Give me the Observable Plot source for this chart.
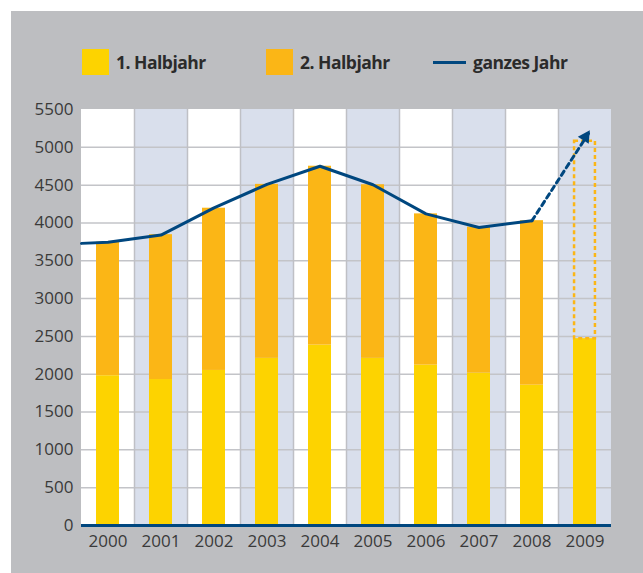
<!DOCTYPE html>
<html>
<head>
<meta charset="utf-8">
<script src="https://cdn.jsdelivr.net/npm/d3@7"></script>
<script src="https://cdn.jsdelivr.net/npm/@observablehq/plot@0.6"></script>
<style>
  html, body { margin: 0; padding: 0; background: #ffffff; }
  #panel { position: absolute; left: 11px; top: 11px; width: 632px; height: 562px; background: #BDBEC1; overflow: hidden; }
  .lg { position: absolute; font-family: "Open Sans", sans-serif; font-weight: 700; font-size: 17.5px; color: #2b2b2b; line-height: 26px; top: 38px; letter-spacing: -0.5px; white-space: nowrap; }
  .sw { position: absolute; top: 38px; width: 27px; height: 26px; }
  .ln { position: absolute; top: 50px; width: 33px; height: 2.5px; background: #00477F; }
  #chart { position: absolute; left: 0; top: 79px; }
</style>
</head>
<body>
<div id="panel">
  <div class="sw" style="left:71px;background:#FDD300"></div>
  <div class="lg" style="left:105px">1. Halbjahr</div>
  <div class="sw" style="left:255px;background:#FBB616"></div>
  <div class="lg" style="left:289px">2. Halbjahr</div>
  <div class="ln" style="left:422px"></div>
  <div class="lg" style="left:462px">ganzes Jahr</div>
  <div id="chart"></div>
</div>
<script>
// ---- data ----
const years = [2000, 2001, 2002, 2003, 2004, 2005, 2006, 2007, 2008, 2009];
const firstHalf = [1980, 1930, 2050, 2210, 2385, 2210, 2120, 2015, 1855, 2470];
const fullYear = [3745, 3845, 4195, 4510, 4750, 4505, 4120, 3945, 4030, null];
const projected2009 = 5080;
const lineYears = [1999.5, 2000, 2001, 2002, 2003, 2004, 2005, 2006, 2007, 2008];
const lineValues = [3730, 3745, 3840, 4200, 4510, 4750, 4505, 4120, 3940, 4030];
const forecastYears = [2008, 2009.1];
const forecastValues = [4030, 5220];
const yTicks = [0, 500, 1000, 1500, 2000, 2500, 3000, 3500, 4000, 4500, 5000, 5500];

// ---- derived tables ----
const half = 0.217;
const bands = years.map((y, i) => ({year: y, fill: i % 2 === 0 ? "#FFFFFF" : "#D9DFEC"}));
const h1 = years.map((y, i) => ({year: y, v: firstHalf[i]}));
const h2 = years.map((y, i) => ({year: y, lo: firstHalf[i], hi: fullYear[i]})).filter(d => d.hi != null);
const line = lineYears.map((y, i) => ({year: y, v: lineValues[i]}));
const fc = forecastYears.map((y, i) => ({year: y, v: forecastValues[i]}));
const proj = [{year: 2009, lo: firstHalf[9], hi: projected2009}];

const navy = "#00477F";
const headLen = 12, headW = 6.5;

function arrowHead(index, scales) {
  const x = scales.x, y = scales.y;
  const x0 = x(fc[0].year), y0 = y(fc[0].v), x1 = x(fc[1].year), y1 = y(fc[1].v);
  const dx = x1 - x0, dy = y1 - y0, L = Math.hypot(dx, dy);
  const ux = dx / L, uy = dy / L, px = -uy, py = ux;
  const bx = x1 - ux * headLen, by = y1 - uy * headLen;
  const g = document.createElementNS("http://www.w3.org/2000/svg", "path");
  g.setAttribute("d", `M${x1},${y1}L${bx + px * headW},${by + py * headW}L${bx - px * headW},${by - py * headW}Z`);
  g.setAttribute("fill", navy);
  return g;
}

const plot = Plot.plot({
  width: 632,
  height: 483,
  marginLeft: 70,
  marginRight: 32,
  marginTop: 19,
  marginBottom: 48,
  style: {fontFamily: "'Open Sans', sans-serif", fontSize: "17px", color: "#3a3a3a", background: "transparent", overflow: "visible"},
  x: {domain: [1999.5, 2009.5], label: null},
  y: {domain: [0, 5500], label: null},
  marks: [
    Plot.rect(bands, {x1: d => d.year - 0.5, x2: d => d.year + 0.5, y1: 0, y2: 5500, fill: d => d.fill}),
    Plot.ruleY(yTicks.filter(t => t > 0 && t < 5500), {stroke: "#C3C4C8", strokeWidth: 1.5}),
    Plot.ruleX(years.slice(0, -1), {x: d => d + 0.5, y1: 0, y2: 5500, stroke: "#BFC0C5", strokeWidth: 1.5}),
    Plot.rect(h1, {x1: d => d.year - half, x2: d => d.year + half, y1: 0, y2: "v", fill: "#FDD300"}),
    Plot.rect(h2, {x1: d => d.year - half, x2: d => d.year + half, y1: "lo", y2: "hi", fill: "#FBB616"}),
    Plot.rect(proj, {x1: d => d.year - half + 0.02, x2: d => d.year + half - 0.02, y1: "lo", y2: "hi", fill: "none", stroke: "#FBB616", strokeWidth: 2.5, strokeDasharray: "4,3"}),
    Plot.line(line, {x: "year", y: "v", stroke: navy, strokeWidth: 3, strokeLinejoin: "round"}),
    Plot.line(fc, {x: "year", y: "v", stroke: navy, strokeWidth: 3, strokeDasharray: "5,4"}),
    arrowHead,
    Plot.ruleY([0], {stroke: navy, strokeWidth: 3}),
    Plot.axisY({ticks: yTicks, tickFormat: d => String(d), tickSize: 0, tickPadding: 8, fontSize: 17, label: null}),
    Plot.axisX({ticks: years, tickFormat: d => String(d), tickSize: 0, tickPadding: 9, fontSize: 17, label: null})
  ]
});
document.getElementById("chart").appendChild(plot);
</script>
</body>
</html>
